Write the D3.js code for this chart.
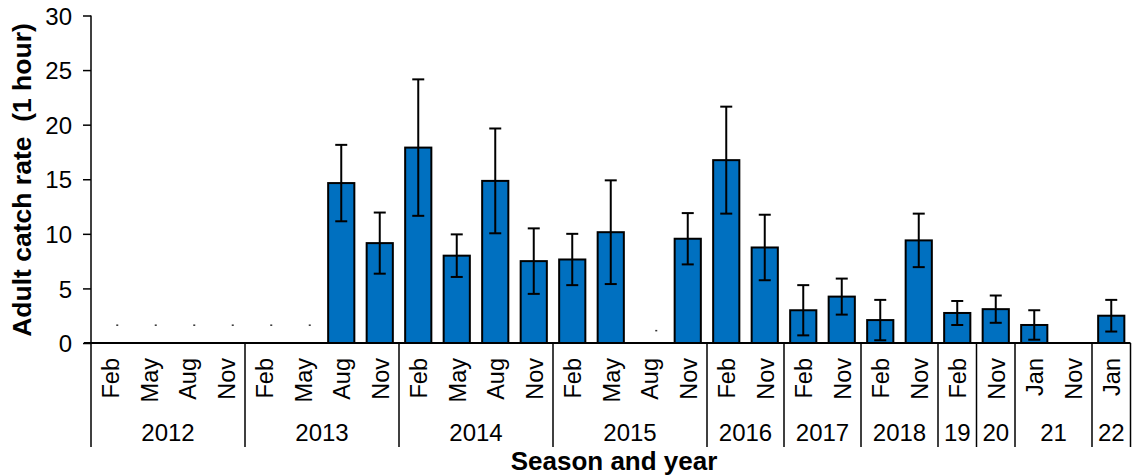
<!DOCTYPE html>
<html>
<head>
<meta charset="utf-8">
<script src="https://cdn.jsdelivr.net/npm/d3@7"></script>
<style>
  body { margin: 0; background: #fff; }
  text { font-family: "Liberation Sans", Arial, sans-serif; fill: #000; }
</style>
</head>
<body>
<svg id="chart" width="1132" height="476"></svg>
<script>
// season labels, one per bar slot
var months = ["Feb","May","Aug","Nov", "Feb","May","Aug","Nov", "Feb","May","Aug","Nov",
              "Feb","May","Aug","Nov", "Feb","Nov", "Feb","Nov", "Feb","Nov", "Feb", "Nov", "Jan","Nov", "Jan"];
var years = ["2012","2013","2014","2015","2016","2017","2018","19","20","21","22"];
var yearSizes = [4,4,4,4,2,2,2,1,1,2,1];

// mean catch rate and half error bar (null = no bar)
var catchRate = [null,null,null,null, null,null,14.65,9.15, 17.9,8.0,14.85,7.5,
                 7.65,10.15,null,9.55, 16.75,8.75, 3.0,4.25, 2.1,9.4, 2.75, 3.1, 1.65,null, 2.5];
var errHalf   = [null,null,null,null, null,null,3.5,2.8, 6.25,1.95,4.8,3.0,
                 2.35,4.75,null,2.35, 4.9,3.0, 2.3,1.65, 1.85,2.45, 1.1, 1.25, 1.35,null, 1.45];
// tiny marks drawn for sampled-but-empty seasons
var emptyMark = [1.7,1.7,1.7,1.7, 1.7,1.7,null,null, null,null,null,null,
                 null,null,1.2,null, null,null, null,null, null,null, null, null, null,null, null];
var yTicks = [0,5,10,15,20,25,30];

var svg = d3.select("#chart");
var padL = 91, padR = 1130.5, padT = 15.5, padB = 343;

var keys = months.map(function(m,i){ return i; });
var x = d3.scaleBand().domain(keys).range([padL, padR]).paddingInner(0.32).paddingOuter(0.16);
var step = (padR - padL) / keys.length;
var y = d3.scaleLinear().domain([0,30]).range([padB, padT]);

var data = keys.map(function(i){
  return {i:i, month:months[i], v:catchRate[i], e:errHalf[i], mark:emptyMark[i]};
});

// y axis
var yAxis = d3.axisLeft(y).tickValues(yTicks).tickSize(8).tickPadding(11);
var gy = svg.append("g").attr("transform", "translate(" + padL + ",0)").call(yAxis);
gy.select(".domain").attr("stroke", "#000").attr("stroke-width", 1.5).attr("d", "M0," + padT + "V" + 447);
gy.selectAll(".tick line").attr("stroke", "#000").attr("stroke-width", 1.5);
gy.selectAll(".tick text").style("font-size", "24px").attr("dy", "0.36em");

// bars
svg.append("g").selectAll("rect")
  .data(data.filter(function(d){ return d.v != null; }))
  .enter().append("rect")
  .attr("x", function(d){ return x(d.i); })
  .attr("y", function(d){ return y(d.v); })
  .attr("width", x.bandwidth())
  .attr("height", function(d){ return y(0) - y(d.v); })
  .attr("fill", "#0070C0")
  .attr("stroke", "#000")
  .attr("stroke-width", 2);

// error bars
var eb = svg.append("g").attr("stroke", "#000").attr("stroke-width", 2)
  .selectAll("g").data(data.filter(function(d){ return d.e != null; }))
  .enter().append("g")
  .attr("transform", function(d){ return "translate(" + (x(d.i) + x.bandwidth()/2) + ",0)"; });
eb.append("line").attr("y1", function(d){ return y(d.v + d.e); }).attr("y2", function(d){ return y(d.v - d.e); });
eb.append("line").attr("x1", -6).attr("x2", 6)
  .attr("y1", function(d){ return y(d.v + d.e); }).attr("y2", function(d){ return y(d.v + d.e); });
eb.append("line").attr("x1", -6).attr("x2", 6)
  .attr("y1", function(d){ return y(d.v - d.e); }).attr("y2", function(d){ return y(d.v - d.e); });

// small marks
svg.append("g").selectAll("rect")
  .data(data.filter(function(d){ return d.mark != null; }))
  .enter().append("rect")
  .attr("x", function(d){ return x(d.i) + x.bandwidth()/2 + 6; })
  .attr("y", function(d){ return y(d.mark); })
  .attr("width", 2).attr("height", 1.5)
  .attr("fill", "#333");

// x axis line
svg.append("line").attr("x1", 84).attr("x2", padR).attr("y1", padB).attr("y2", padB)
  .attr("stroke", "#000").attr("stroke-width", 2);

// month labels
svg.append("g").selectAll("text").data(data).enter().append("text")
  .attr("transform", function(d){ return "translate(" + (x(d.i) + x.bandwidth()/2 + 9) + ",358) rotate(-90)"; })
  .attr("text-anchor", "end")
  .style("font-size", "23.5px")
  .text(function(d){ return d.month; });

// year groups with separators
var start = 0;
var groups = years.map(function(yr, k){
  var g = {year: yr, x0: padL + start * step, x1: padL + (start + yearSizes[k]) * step};
  start += yearSizes[k];
  return g;
});
svg.append("g").selectAll("line").data(groups).enter().append("line")
  .attr("x1", function(d){ return d.x1; }).attr("x2", function(d){ return d.x1; })
  .attr("y1", padB).attr("y2", 447)
  .attr("stroke", "#000").attr("stroke-width", 1.5);
svg.append("g").selectAll("text").data(groups).enter().append("text")
  .attr("x", function(d){ return (d.x0 + d.x1) / 2; })
  .attr("y", 441)
  .attr("text-anchor", "middle")
  .style("font-size", "24px")
  .text(function(d){ return d.year; });

// titles
svg.append("text")
  .attr("transform", "translate(31,180) rotate(-90)")
  .attr("text-anchor", "middle")
  .style("font-size", "26.5px").style("font-weight", "bold")
  .style("white-space", "pre")
  .text("Adult catch rate  (1 hour)");
svg.append("text")
  .attr("x", 614).attr("y", 470)
  .attr("text-anchor", "middle")
  .style("font-size", "26px").style("font-weight", "bold")
  .text("Season and year");
</script>
</body>
</html>
